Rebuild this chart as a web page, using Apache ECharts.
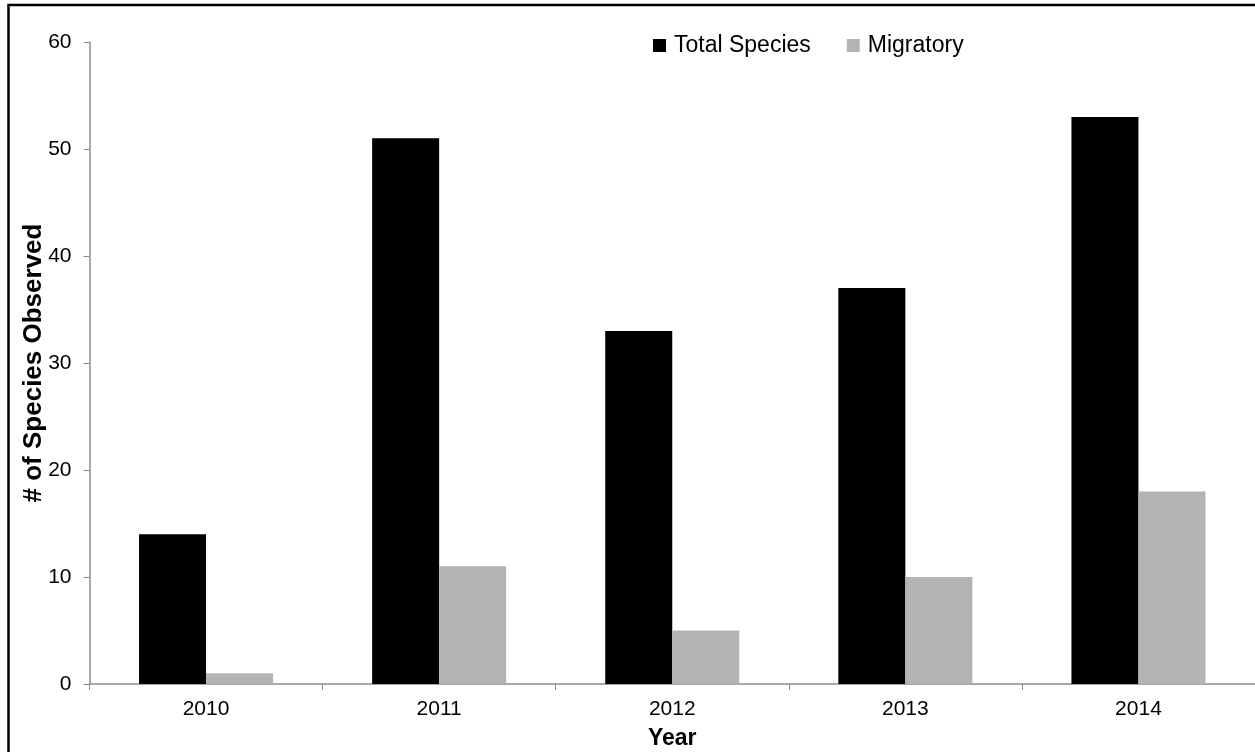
<!DOCTYPE html>
<html>
<head>
<meta charset="utf-8">
<script src="https://cdn.jsdelivr.net/npm/echarts@6/dist/echarts.min.js"></script>
<style>html,body{margin:0;padding:0;background:#fff}#c{width:1255px;height:752px}</style>
</head>
<body>
<div id="c"></div>
<script>
const years = ['2010', '2011', '2012', '2013', '2014'];
const totalSpecies = [14, 51, 33, 37, 53];
const migratory = [1, 11, 5, 10, 18];
const yTicks = [0, 10, 20, 30, 40, 50, 60];

const chart = echarts.init(document.getElementById('c'), null, {renderer: 'canvas'});
const font = '"Liberation Sans", Arial, sans-serif';
chart.setOption({
  animation: false,
  graphic: [{
    type: 'rect', shape: {x: 8.5, y: 5, width: 1300, height: 800},
    style: {fill: 'none', stroke: '#000', lineWidth: 2.5}, z: 100
  }],
  legend: {
    left: 648, top: 29,
    itemWidth: 13, itemHeight: 13, itemGap: 36,
    icon: 'rect',
    textStyle: {fontFamily: font, fontSize: 23, color: '#000', padding: [0, 0, 0, 3]},
    data: ['Total Species', 'Migratory']
  },
  grid: {left: 89.5, right: 0, top: 42, bottom: 68, containLabel: false, outerBoundsMode: 'none'},
  xAxis: {
    type: 'category', data: years,
    name: 'Year', nameLocation: 'middle', nameGap: 43, nameMoveOverlap: false,
    nameTextStyle: {fontFamily: font, fontSize: 23, fontWeight: 'bold', color: '#000'},
    axisLine: {lineStyle: {color: '#8c8c8c', width: 1.5}},
    axisTick: {show: true, length: 6, inside: false, lineStyle: {color: '#8c8c8c'}},
    axisLabel: {fontFamily: font, fontSize: 21, color: '#000', margin: 15}
  },
  yAxis: {
    type: 'value', min: yTicks[0], max: yTicks[yTicks.length - 1], interval: 10,
    name: '# of Species Observed', nameLocation: 'middle', nameGap: 43, nameMoveOverlap: false,
    nameTextStyle: {fontFamily: font, fontSize: 26, fontWeight: 'bold', color: '#000'},
    axisLine: {show: true, lineStyle: {color: '#8c8c8c', width: 1.5}},
    axisTick: {show: true, length: 6, lineStyle: {color: '#8c8c8c'}},
    splitLine: {show: false},
    axisLabel: {fontFamily: font, fontSize: 21, color: '#000', margin: 18}
  },
  series: [
    {name: 'Total Species', type: 'bar', data: totalSpecies, itemStyle: {color: '#000'},
     barGap: '0%', barCategoryGap: '42.5%'},
    {name: 'Migratory', type: 'bar', data: migratory, itemStyle: {color: '#b3b3b3'},
     barGap: '0%', barCategoryGap: '42.5%'}
  ]
});
</script>
</body>
</html>
